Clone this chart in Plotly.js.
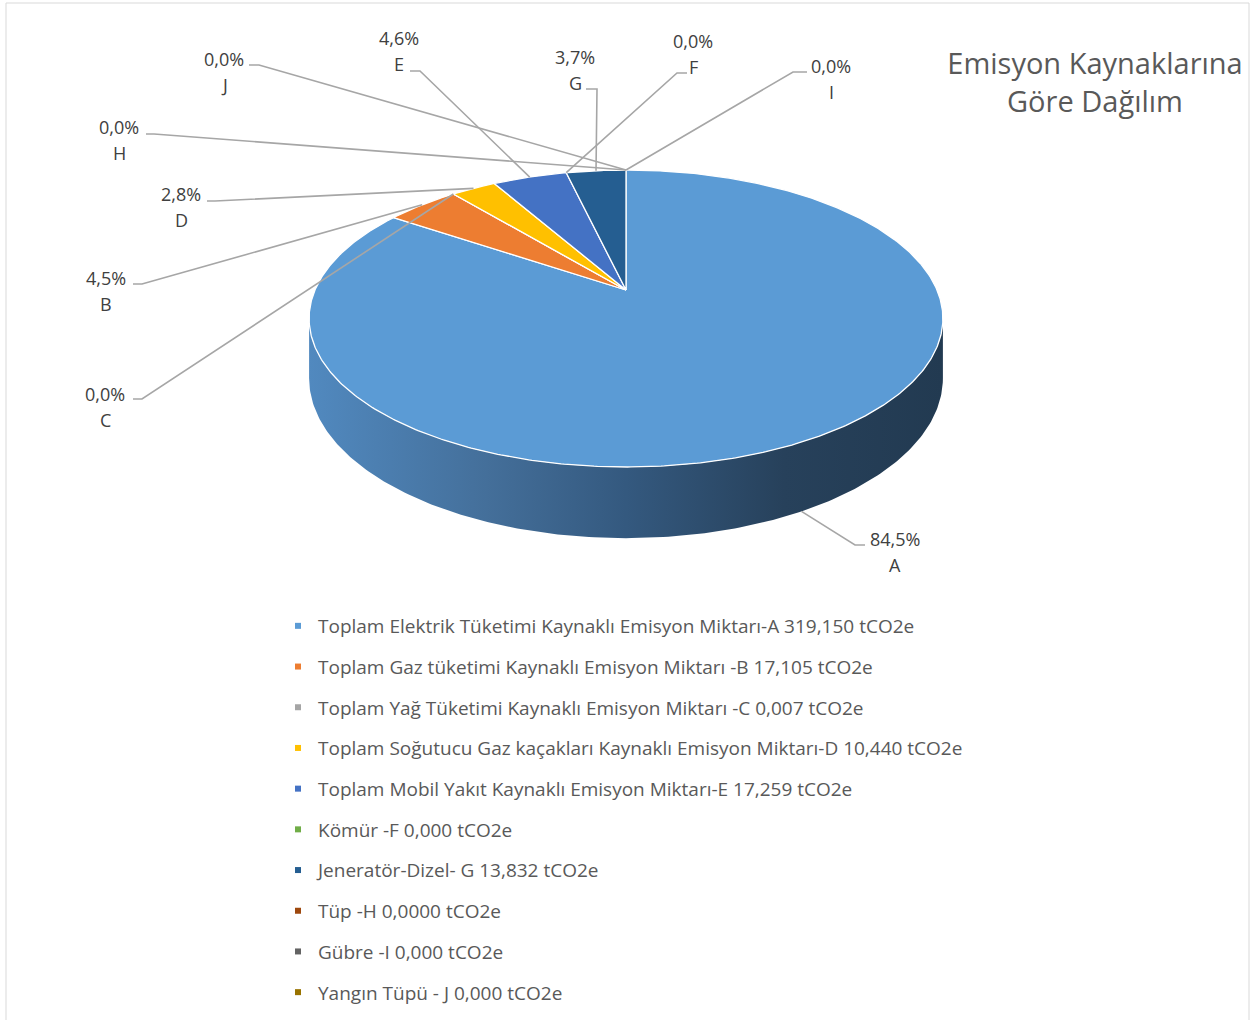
<!DOCTYPE html>
<html><head><meta charset="utf-8">
<script src="https://cdn.plot.ly/plotly-3.0.1.min.js"></script>
<style>html,body{margin:0;padding:0;background:#fff}#chart{width:1256px;height:1020px}</style>
</head><body><div id="chart"></div>
<script>
// ---------- data ----------
const categories = ['A','B','C','D','E','F','G','H','I','J'];
const legendNames = [
  'Toplam Elektrik Tüketimi Kaynaklı Emisyon Miktarı-A 319,150 tCO2e',
  'Toplam Gaz tüketimi Kaynaklı Emisyon Miktarı -B 17,105 tCO2e',
  'Toplam Yağ Tüketimi Kaynaklı Emisyon Miktarı -C 0,007 tCO2e',
  'Toplam Soğutucu Gaz kaçakları Kaynaklı Emisyon Miktarı-D 10,440 tCO2e',
  'Toplam Mobil Yakıt Kaynaklı Emisyon Miktarı-E 17,259 tCO2e',
  'Kömür -F 0,000 tCO2e',
  'Jeneratör-Dizel- G 13,832 tCO2e',
  'Tüp -H 0,0000 tCO2e',
  'Gübre -I 0,000 tCO2e',
  'Yangın Tüpü - J 0,000 tCO2e'
];
const values = [319.150, 17.105, 0.007, 10.440, 17.259, 0.000, 13.832, 0.0000, 0.000, 0.000];
const titleText = 'Emisyon Kaynaklarına<br>Göre Dağılım';

// ---------- style / layout ----------
const colors = ['#5b9bd5','#ed7d31','#a5a5a5','#ffc000','#4472c4','#70ad47','#255e91','#9e480e','#636363','#997300'];
const FONT = '"Open Sans", Lato, sans-serif';
const geo = {cx: 626, cy: 290, R: 311, S: 143, p: 0.192, depth: 57.5};
// label placement (text centre of percent line), elbow and tail of leader line
const labelX = [895, 106, 105, 181, 399, 693, 575, 119, 831, 224];
const labelY = [539, 278, 394, 194, 38, 41, 57, 127, 66, 59];
const elbowX = [855, 142, 142, 215, 420, 677, 597, 154, 793, 259];
const elbowY = [545, 284, 399, 201, 71, 73, 89, 134, 72, 65];
const tailX  = [865, 133, 133, 207, 410, 687, 586, 146, 807, 249];
const tailY  = [545, 284, 399, 201, 71, 73, 89, 134, 72, 65];

// ---------- geometry helpers ----------
function proj(theta, down) {
  const X = Math.sin(theta), Z = Math.cos(theta);
  const w = 1 + geo.p * Z;
  return [geo.cx + geo.R * X / w, geo.cy - geo.S * Z / w + (down ? geo.depth / w : 0)];
}
const total = values.reduce((a, b) => a + b, 0);
const starts = [], ends = [];
let acc = 0;
values.forEach(v => { starts.push(acc / total * 2 * Math.PI); acc += v; ends.push(acc / total * 2 * Math.PI); });

const traces = [];
// side wall (front, visible part)
(function () {
  const t1 = Math.acos(-geo.p), t2 = 2 * Math.PI - t1;
  const xs = [], ys = [];
  const n = 200;
  for (let i = 0; i <= n; i++) { const t = t1 + (t2 - t1) * i / n; const q = proj(t, false); xs.push(q[0]); ys.push(q[1]); }
  for (let i = n; i >= 0; i--) { const t = t1 + (t2 - t1) * i / n; const q = proj(t, true); xs.push(q[0]); ys.push(q[1]); }
  traces.push({
    type: 'scatter', mode: 'lines', x: xs, y: ys, fill: 'toself',
    fillcolor: '#3a6389',
    fillgradient: {type: 'horizontal', colorscale: [[0, '#5189bf'], [0.28, '#446f9a'], [0.5, '#34597f'], [0.75, '#27415b'], [1, '#223a51']]},
    line: {width: 0, color: 'rgba(0,0,0,0)'}, hoverinfo: 'skip', showlegend: false
  });
})();

// top face slices
values.forEach((v, i) => {
  if (v <= 0) return;
  const a0 = starts[i], a1 = ends[i];
  const n = Math.max(2, Math.ceil((a1 - a0) / (Math.PI / 360)));
  const xs = [geo.cx], ys = [geo.cy];
  for (let k = 0; k <= n; k++) { const q = proj(a0 + (a1 - a0) * k / n, false); xs.push(q[0]); ys.push(q[1]); }
  xs.push(geo.cx); ys.push(geo.cy);
  traces.push({
    type: 'scatter', mode: 'lines', x: xs, y: ys, fill: 'toself', fillcolor: colors[i],
    line: {color: '#ffffff', width: 1.3}, hoverinfo: 'skip', showlegend: false
  });
});

// leader lines
const lx = [], ly = [];
values.forEach((v, i) => {
  const mid = (starts[i] + ends[i]) / 2;
  const front = Math.cos(mid) < -geo.p;
  const q = proj(mid, front);
  lx.push(tailX[i], elbowX[i], q[0], null);
  ly.push(tailY[i], elbowY[i], q[1], null);
});
traces.push({type: 'scatter', mode: 'lines', x: lx, y: ly, line: {color: '#a6a6a6', width: 1.6}, hoverinfo: 'skip', showlegend: false});

// legend entries
categories.forEach((c, i) => {
  traces.push({
    type: 'scatter', mode: 'markers', x: [null], y: [null], name: legendNames[i], legendgroup: 'g' + i,
    marker: {symbol: 'square', size: 6, color: colors[i]}, hoverinfo: 'skip', showlegend: true
  });
});

// data labels
const annotations = [];
values.forEach((v, i) => {
  const pct = (v / total * 100).toFixed(1).replace('.', ',') + '%';
  annotations.push({x: labelX[i], y: labelY[i], xref: 'x', yref: 'y', text: pct, showarrow: false,
    xanchor: 'center', yanchor: 'middle', font: {family: FONT, size: 18, color: '#404040'}});
  annotations.push({x: labelX[i], y: labelY[i] + 26, xref: 'x', yref: 'y', text: categories[i], showarrow: false,
    xanchor: 'center', yanchor: 'middle', font: {family: FONT, size: 18, color: '#404040'}});
});

const layout = {
  width: 1256, height: 1020,
  margin: {l: 0, r: 0, t: 0, b: 0, autoexpand: false},
  paper_bgcolor: '#ffffff', plot_bgcolor: '#ffffff',
  font: {family: FONT, color: '#595959'},
  title: {text: titleText, font: {family: FONT, size: 29, color: '#595959'}, x: 1095 / 1256, xanchor: 'center', xref: 'container', y: 1 - 74 / 1020, yanchor: 'top', yref: 'container'},
  xaxis: {range: [0, 1256], visible: false, fixedrange: true},
  yaxis: {range: [1020, 0], visible: false, fixedrange: true},
  showlegend: true,
  legend: {x: 278 / 1256, xanchor: 'left', y: 1 - 607 / 1020, yanchor: 'top', font: {family: FONT, size: 19, color: '#595959'},
    tracegroupgap: 13, bgcolor: 'rgba(0,0,0,0)', itemclick: false, itemdoubleclick: false},
  shapes: [{type: 'rect', xref: 'x', yref: 'y', x0: 6, x1: 1249, y0: 3, y1: 1030, line: {color: '#d9d9d9', width: 1}, fillcolor: 'rgba(0,0,0,0)'}],
  annotations: annotations
};
Plotly.newPlot('chart', traces, layout, {displayModeBar: false, staticPlot: true});
</script>
</body></html>
